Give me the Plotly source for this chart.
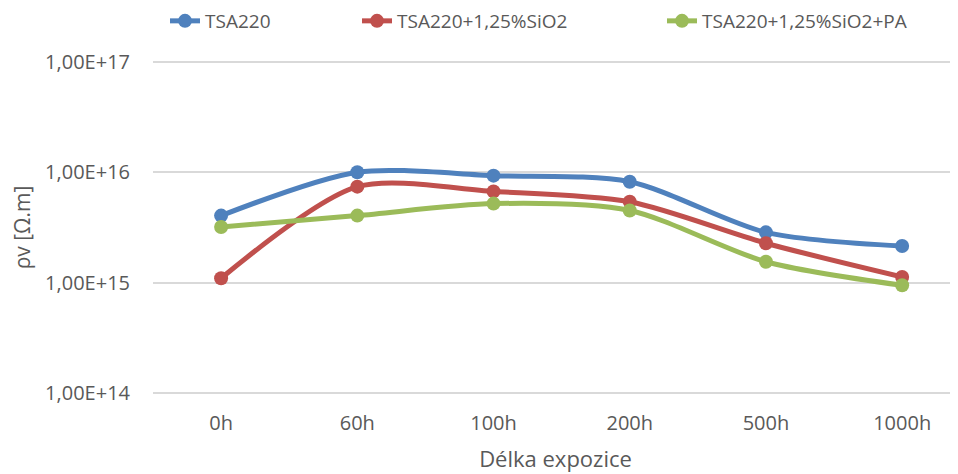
import plotly.graph_objects as go

categories = ["0h", "60h", "100h", "200h", "500h", "1000h"]
tsa220 = [4.05e15, 1.0e16, 9.3e15, 8.2e15, 2.86e15, 2.15e15]
tsa220_sio2 = [1.10e15, 7.4e15, 6.7e15, 5.4e15, 2.28e15, 1.13e15]
tsa220_sio2_pa = [3.2e15, 4.05e15, 5.2e15, 4.5e15, 1.55e15, 0.95e15]

names = ["TSA220", "TSA220+1,25%SiO2", "TSA220+1,25%SiO2+PA"]
colors = ["#4F81BD", "#C0504D", "#9BBB59"]
y_tickvals = [1e14, 1e15, 1e16, 1e17]
y_ticktext = ["1,00E+14", "1,00E+15", "1,00E+16", "1,00E+17"]

# page body has an 8px margin, so the figure is 950x466
W, H = 950, 466
ML, MR, MT, MB = 145, 0, 48, 75
font = "Open Sans"
grey = "#595959"

fig = go.Figure()
for i, (nm, ys, c) in enumerate(zip(names, [tsa220, tsa220_sio2, tsa220_sio2_pa], colors)):
    fig.add_trace(go.Scatter(
        x=list(range(len(categories))), y=ys, name=nm,
        mode="lines+markers",
        line=dict(color=c, width=5, shape="spline", smoothing=0.8),
        marker=dict(color=c, size=14),
        legend="legend" if i == 0 else f"legend{i+1}",
    ))

def cx(px):  # page pixels -> container fraction
    return (px - 8) / W

def cy(py):
    return (H - (py - 8)) / H

leg_common = dict(orientation="h", yanchor="middle", xanchor="left",
                  xref="container", yref="container",
                  font=dict(family=font, size=19, color=grey),
                  bgcolor="rgba(0,0,0,0)", itemwidth=30)
ly = cy(21)
fig.update_layout(
    legend=dict(x=cx(165), y=ly, **leg_common),
    legend2=dict(x=cx(357), y=ly, **leg_common),
    legend3=dict(x=cx(662), y=ly, **leg_common),
)

fig.update_layout(
    width=W, height=H,
    margin=dict(l=ML, r=MR, t=MT, b=MB, autoexpand=False),
    plot_bgcolor="white", paper_bgcolor="white",
    font=dict(family=font, color=grey, size=20),
    showlegend=True,
    xaxis=dict(
        tickmode="array", tickvals=list(range(len(categories))), ticktext=categories,
        range=[-0.5, 5.41], showgrid=False, zeroline=False, showline=False,
        ticks="", ticklabelstandoff=10,
        tickfont=dict(family=font, size=20, color=grey),
        title=dict(text="Délka expozice", font=dict(family=font, size=22, color=grey), standoff=16),
    ),
    yaxis=dict(
        type="log", range=[13.95, 17.05],
        tickmode="array", tickvals=y_tickvals, ticktext=y_ticktext,
        showgrid=True, gridcolor="#D9D9D9", gridwidth=1.5,
        zeroline=False, showline=False, ticks="",
        ticklabelstandoff=22,
        tickfont=dict(family=font, size=20, color=grey),
        title=dict(text="ρv [Ω.m]", font=dict(family=font, size=21, color=grey), standoff=8),
    ),
)

fig.write_html("out.html")
